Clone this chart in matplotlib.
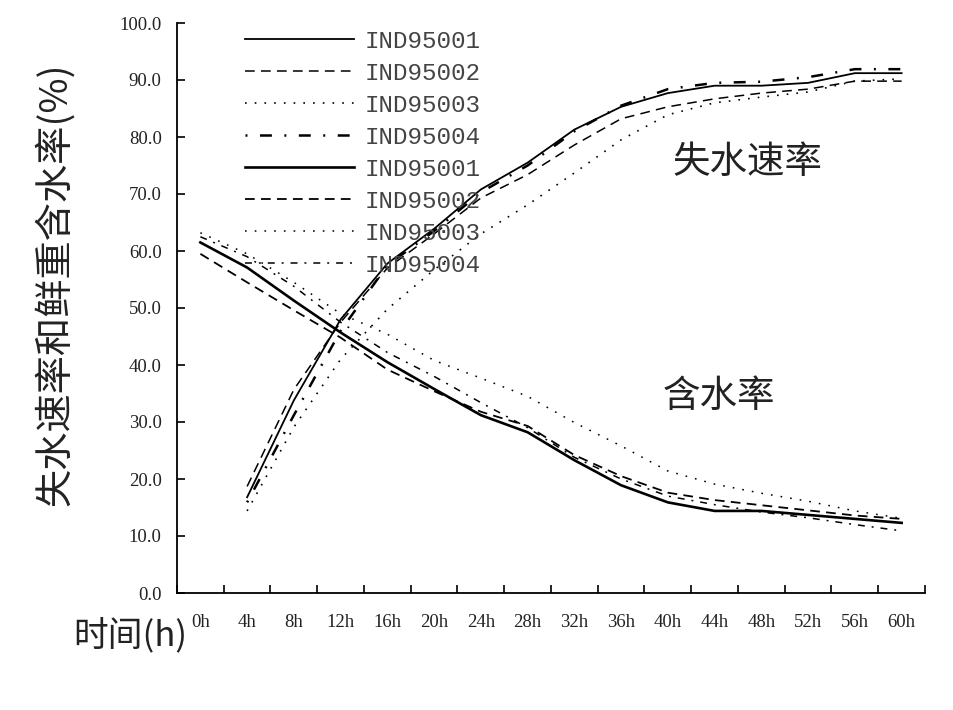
import numpy as np
import matplotlib
matplotlib.use('Agg')
import matplotlib.pyplot as plt

# 时间点
hours = ['0h', '4h', '8h', '12h', '16h', '20h', '24h', '28h',
         '32h', '36h', '40h', '44h', '48h', '52h', '56h', '60h']

# 失水速率 (0h 无数据)
loss_1 = [np.nan, 16.8, 33.8, 48.0, 57.8, 63.9, 70.8, 75.5, 81.3, 85.3, 87.7, 89.0, 89.0, 89.5, 91.2, 91.2]
loss_2 = [np.nan, 18.7, 35.7, 47.5, 57.0, 63.0, 69.3, 73.4, 78.6, 83.2, 85.3, 86.7, 87.7, 88.4, 89.8, 89.8]
loss_3 = [np.nan, 14.4, 29.1, 41.0, 49.8, 56.7, 63.0, 68.1, 73.7, 79.5, 83.9, 86.0, 87.0, 87.9, 89.8, 90.2]
loss_4 = [np.nan, 15.9, 31.2, 46.0, 57.5, 63.5, 70.3, 75.0, 81.0, 85.5, 88.4, 89.5, 89.7, 90.5, 91.9, 91.9]

# 鲜重含水率
water_1 = [61.5, 57.1, 51.3, 45.7, 40.5, 35.8, 31.2, 28.2, 23.3, 18.9, 15.9, 14.4, 14.4, 13.7, 13.0, 12.3]
water_2 = [59.5, 54.5, 49.6, 44.8, 39.2, 35.4, 31.8, 29.3, 24.2, 20.5, 17.6, 16.3, 15.4, 14.5, 13.6, 13.0]
water_3 = [63.2, 59.5, 54.5, 49.0, 45.4, 40.8, 37.7, 34.5, 29.9, 25.8, 21.4, 19.1, 17.5, 16.1, 14.4, 13.1]
water_4 = [62.5, 59.0, 53.8, 47.5, 42.2, 38.0, 33.4, 29.0, 23.8, 20.0, 17.0, 15.5, 14.2, 13.2, 12.0, 10.9]

names = ['IND95001', 'IND95002', 'IND95003', 'IND95004']

plt.rcParams['lines.scale_dashes'] = False

fig = plt.figure(figsize=(9.54, 7.10), dpi=100)
ax = fig.add_axes([177 / 954, 1 - 593 / 710, 748 / 954, 570 / 710])

x = np.arange(len(hours))

loss_styles = [('-', 1.3), ((0, (7, 4.5)), 1.1), ((0, (1.2, 5.8)), 1.2), ((0, (1.4, 9, 8.6, 9)), 1.8)]
water_styles = [('-', 1.9), ((0, (7, 4.5)), 1.3), ((0, (1.2, 5.8)), 1.1), ((0, (5, 5, 1.4, 5)), 1.1)]

for ys, (ls, lw), nm in zip([loss_1, loss_2, loss_3, loss_4], loss_styles, names):
    ax.plot(x, ys, color='black', linestyle=ls, linewidth=lw, label=nm)
for ys, (ls, lw), nm in zip([water_1, water_2, water_3, water_4], water_styles, names):
    ax.plot(x, ys, color='black', linestyle=ls, linewidth=lw, label=nm)

ax.set_xlim(-0.5, len(hours) - 0.5)
ax.set_ylim(0, 100)

ax.spines['top'].set_visible(False)
ax.spines['right'].set_visible(False)
for s in ['left', 'bottom']:
    ax.spines[s].set_linewidth(1.3)

# 刻度
ax.set_yticks(np.arange(0, 101, 10))
ax.set_yticklabels(['%.1f' % v for v in np.arange(0, 101, 10)],
                   fontfamily='Liberation Serif', fontsize=13.5, color='#222222')
ax.tick_params(axis='y', direction='in', length=6, width=1.2, pad=11)

ax.set_xticks(np.arange(-0.5, len(hours), 1))
ax.set_xticklabels([])
ax.set_xticks(x, minor=True)
ax.set_xticklabels(hours, minor=True, fontfamily='Liberation Serif', fontsize=13.5, color='#222222')
ax.tick_params(axis='x', which='major', direction='in', length=6, width=1.2)
ax.tick_params(axis='x', which='minor', length=0, pad=15)

# 图例
leg = ax.legend(loc='upper left', bbox_to_anchor=(0.091, 0.988), frameon=False,
                prop={'family': 'Liberation Mono', 'size': 17.5},
                handlelength=4.5, handletextpad=0.4, labelspacing=0.37,
                borderpad=0, borderaxespad=0)
for t in leg.get_texts():
    t.set_color('#444444')

cjk = ['Noto Sans CJK SC', 'DejaVu Sans']
ax.text(11.7, 75.6, '失水速率', fontsize=27, family=cjk, ha='center', va='center', color='#222222')
ax.text(11.1, 34.4, '含水率', fontsize=27, family=cjk, ha='center', va='center', color='#222222')

fig.text(55 / 954, 1 - 284 / 710, '失水速率和鲜重含水率(%)', rotation=90, fontsize=27.5,
         family=cjk, ha='center', va='center', color='#222222')
fig.text(130 / 954, 1 - 636 / 710, '时间(h)', fontsize=25, family=cjk,
         ha='center', va='center', color='#222222')

fig.savefig('out.png', dpi=100)
